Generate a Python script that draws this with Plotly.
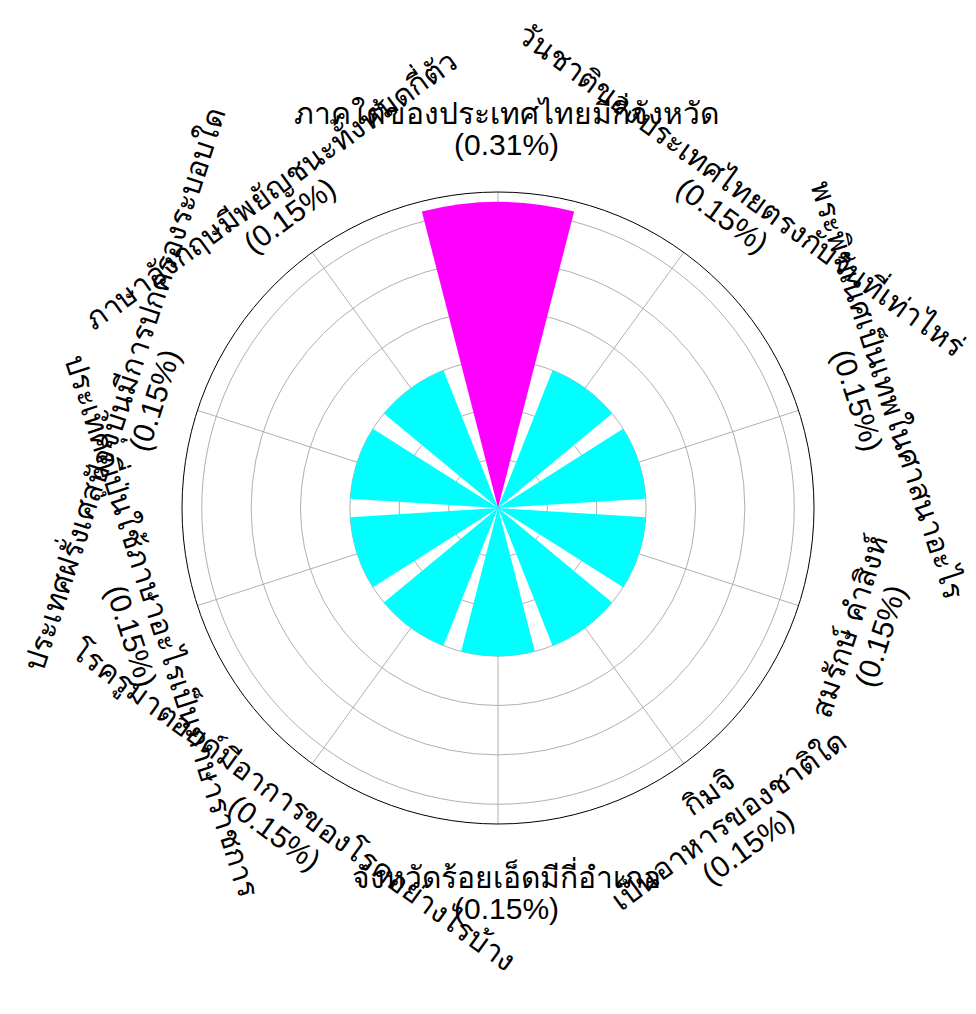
import textwrap
import numpy as np
import plotly.graph_objects as go

# ---- data (clockwise from top) ----
categories = [
    "ภาคใต้ของประเทศไทยมีกี่จังหวัด",
    "วันชาติของประเทศไทยตรงกับวันที่เท่าไหร่",
    "พระพิฆเนศเป็นเทพในศาสนาอะไร",
    "สมรักษ์ คำสิงห์",
    "กิมจิ เป็นอาหารของชาติใด",
    "จังหวัดร้อยเอ็ดมีกี่อำเภอ",
    "โรครูมาตอยด์มีอาการของโรคอย่างไรบ้าง",
    "ประเทศญี่ปุ่นใช้ภาษาอะไรเป็นภาษาราชการ",
    "ประเทศฝรั่งเศสปัจจุบันมีการปกครองระบอบใด",
    "ภาษาอังกฤษมีพยัญชนะทั้งหมดกี่ตัว",
]
values = [0.31, 0.15, 0.15, 0.15, 0.15, 0.15, 0.15, 0.15, 0.15, 0.15]

# ---- layout constants ----
W, H = 976, 1014
CX, CY, R = 498, 506, 318          # target polar centre / radius (pixels)
DX, DY, DR = -8, -6, -2            # correction for plotly placement
FONT = "Liberation Sans, Arial, sans-serif"
FS = 30                            # label font size (px)
LS = 33                            # label line spacing (px)
UP = 4                             # vertical-centering correction (px)

n = len(categories)
step = 360.0 / n
angles = [i * step for i in range(n)]
vmax = max(values)
colors = ["#ff00ff" if v == vmax else "#00ffff" for v in values]

fig = go.Figure()
fig.add_trace(go.Barpolar(
    r=values,
    theta=angles,
    width=[0.8 * step] * n,
    marker=dict(color=colors, line=dict(width=0)),
    showlegend=False,
    hoverinfo="skip",
))

cx_d, cy_d, r_d = CX + DX, CY + DY, R + DR
dom_x = [(cx_d - r_d) / W, (cx_d + r_d) / W]
dom_y = [(H - cy_d - r_d) / H, (H - cy_d + r_d) / H]

fig.update_layout(
    width=W, height=H,
    margin=dict(l=0, r=0, t=0, b=0),
    paper_bgcolor="white",
    plot_bgcolor="white",
    showlegend=False,
    polar=dict(
        domain=dict(x=dom_x, y=dom_y),
        bgcolor="white",
        radialaxis=dict(
            range=[0, 0.32], dtick=0.05, tick0=0,
            showticklabels=False, ticks="", showline=False,
            gridcolor="#b0b0b0", gridwidth=1,
        ),
        angularaxis=dict(
            rotation=90, direction="clockwise", thetaunit="degrees",
            tickmode="array", tickvals=angles,
            showticklabels=False, ticks="",
            gridcolor="#b0b0b0", gridwidth=1,
            showline=True, linecolor="black", linewidth=1,
        ),
    ),
)

# ---- rotated category labels (one annotation per line) ----
LR = 1.2 * R
for cat, val, th in zip(categories, values, angles):
    lines = textwrap.wrap(cat, width=20, break_long_words=False)
    lines = lines + [f"({val:.2f}%)"]
    if 90 < th < 270:
        ang = th - 180
    elif th >= 270:
        ang = th - 360
    else:
        ang = th
    rad = np.deg2rad(th)
    bx = CX + LR * np.sin(rad)
    by = CY - LR * np.cos(rad)
    a = np.deg2rad(ang)
    ux, uy = np.sin(a), -np.cos(a)       # "up" direction of rotated text
    m = len(lines)
    for k, line in enumerate(lines):
        off = ((m - 1) / 2 - k) * LS + UP
        px = bx + off * ux
        py = by + off * uy
        fig.add_annotation(
            x=px / W, y=1 - py / H, xref="paper", yref="paper",
            text=line, showarrow=False, textangle=ang,
            xanchor="center", yanchor="middle", align="center",
            font=dict(family=FONT, size=FS, color="black"),
        )

fig.write_html("out.html")
